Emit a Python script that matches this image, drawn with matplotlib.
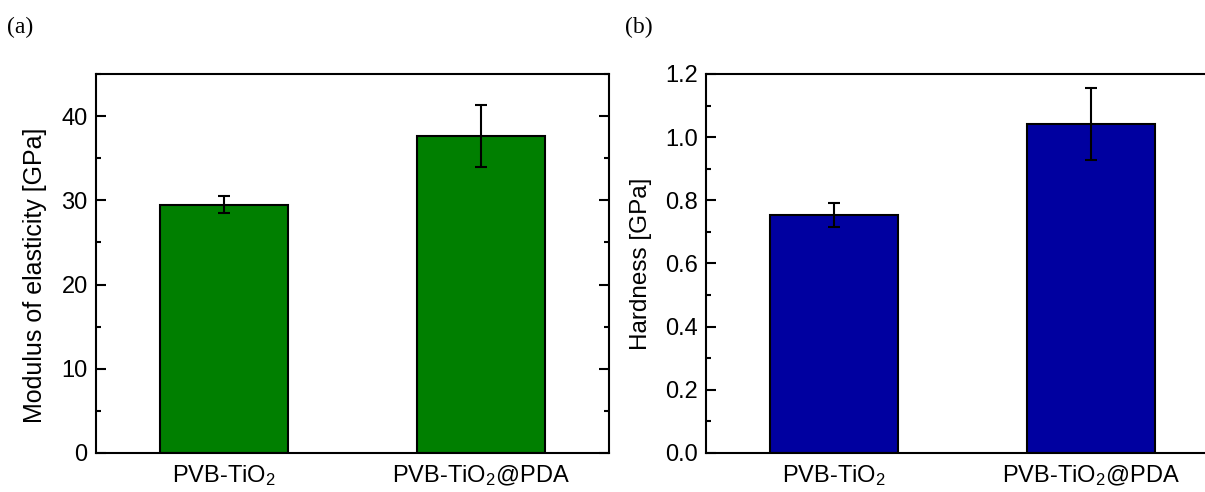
import matplotlib
matplotlib.use("Agg")
import matplotlib.pyplot as plt
from matplotlib.ticker import MultipleLocator, FormatStrFormatter

plt.rcParams['font.family'] = ['Liberation Sans', 'DejaVu Sans']
plt.rcParams['mathtext.default'] = 'regular'

samples = ["PVB-TiO$_2$", "PVB-TiO$_2$@PDA"]
modulus = [29.5, 37.6]
modulus_err = [1.0, 3.7]
hardness = [0.753, 1.042]
hardness_err = [0.037, 0.115]

fig = plt.figure(figsize=(12.05, 4.92), dpi=100)

def style_axes(ax, major, minor, top):
    ax.set_xlim(0.5, 2.5)
    ax.set_ylim(0, top)
    ax.yaxis.set_major_locator(MultipleLocator(major))
    ax.yaxis.set_minor_locator(MultipleLocator(minor))
    ax.tick_params(axis='y', which='both', direction='in', right=True,
                   labelsize=17, width=1.5, pad=6)
    ax.tick_params(axis='y', which='major', length=7)
    ax.tick_params(axis='y', which='minor', length=3.8)
    ax.tick_params(axis='x', length=0, labelsize=17, pad=7)
    for s in ax.spines.values():
        s.set_linewidth(1.5)

x = [1, 2]

# (a) modulus of elasticity
ax1 = fig.add_axes([0.0797, 0.0793, 0.4257, 0.7703])
ax1.bar(x, modulus, width=0.5, color='#007f00', edgecolor='black', linewidth=1.5,
        yerr=modulus_err, capsize=4.3, error_kw=dict(elinewidth=1.5, capthick=1.5))
style_axes(ax1, 10, 5, 45)
ax1.set_xticks(x)
ax1.set_xticklabels(samples)
ax1.set_ylabel("Modulus of elasticity [GPa]", fontsize=18)
ax1.yaxis.set_label_coords(-0.095, 0.47)

# (b) hardness
ax2 = fig.add_axes([0.5859, 0.0793, 0.4257, 0.7703])
ax2.bar(x, hardness, width=0.5, color='#0000a0', edgecolor='black', linewidth=1.5,
        yerr=hardness_err, capsize=4.3, error_kw=dict(elinewidth=1.5, capthick=1.5))
style_axes(ax2, 0.2, 0.1, 1.2)
ax2.yaxis.set_major_formatter(FormatStrFormatter('%.1f'))
ax2.set_xticks(x)
ax2.set_xticklabels(samples)
ax2.set_ylabel("Hardness [GPa]", fontsize=17.5)
ax2.yaxis.set_label_coords(-0.106, 0.5)

fig.text(0.006, 0.965, "(a)", fontsize=17, family='Liberation Serif', va='top')
fig.text(0.519, 0.965, "(b)", fontsize=17, family='Liberation Serif', va='top')

fig.savefig("out.png", dpi=100)
